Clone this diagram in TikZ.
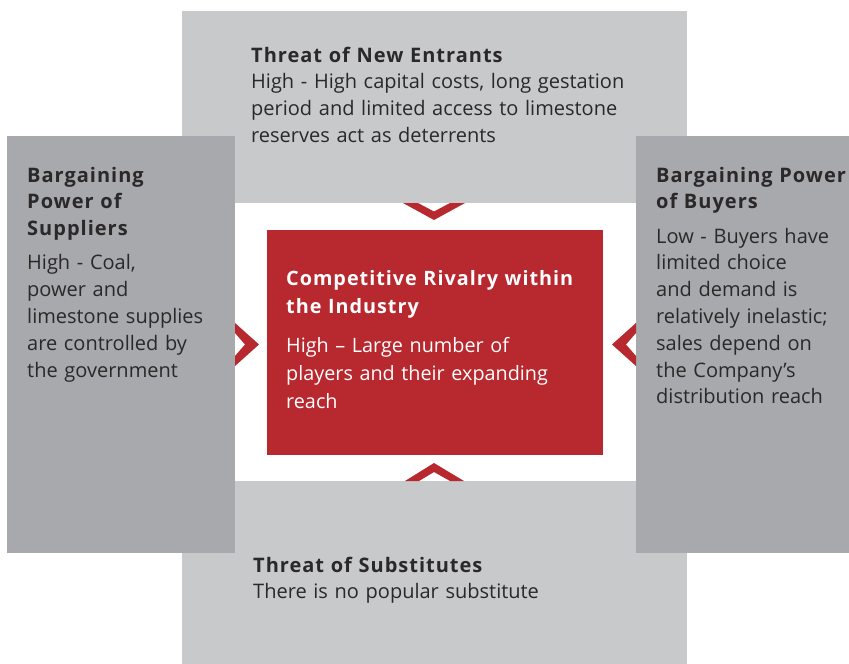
\documentclass[tikz,border=0pt]{standalone}
\usepackage{fontspec}
\setmainfont{Open Sans}[BoldFeatures={LetterSpace=5}]
\begin{document}
\begin{tikzpicture}[x=1pt,y=-1pt,
  lightpanel/.style={fill=panelLight},
  darkpanel/.style={fill=panelDark},
  chevron/.style={fill=rivalRed},
  blocktext/.style={anchor=base west,inner sep=0pt,align=left,text=inkDark,
    text width=400pt,font=\fontsize{20}{26.8}\selectfont},
  redtext/.style={anchor=base west,inner sep=0pt,align=left,text=white,
    text width=400pt,font=\fontsize{19.8}{28}\selectfont}]
\definecolor{panelLight}{HTML}{C8C9CB}
\definecolor{panelDark}{HTML}{A8A9AC}
\definecolor{rivalRed}{HTML}{B7282F}
\definecolor{inkDark}{HTML}{2A2829}
\useasboundingbox (0,0) rectangle (849,664);
\fill[white] (0,0) rectangle (849,664);

% outer force panels
\fill[lightpanel] (182,11) rectangle (687,203);
\fill[lightpanel] (182,481) rectangle (687,664);
\fill[darkpanel] (7,136) rectangle (235,553);
\fill[darkpanel] (636,136) rectangle (849,553);

% central rivalry panel
\fill[rivalRed] (267,230) rectangle (603,455);

% chevrons pointing at the centre
\fill[chevron] (403,203) -- (434,220) -- (465,203) -- (450,203) -- (434,211.5) -- (418,203) -- cycle;
\fill[chevron] (405,481) -- (434,463) -- (464,481) -- (450,481) -- (434,472) -- (419,481) -- cycle;
\fill[chevron] (235,323) -- (259,344.5) -- (235,366) -- (235,356) -- (245,344.5) -- (235,333) -- cycle;
\fill[chevron] (636,323) -- (612,344.5) -- (636,366) -- (636,356) -- (626,344.5) -- (636,333) -- cycle;

% texts
\node[blocktext] (entrants) at (251,62)
  {\textbf{Threat of New Entrants}\\
   High - High capital costs, long gestation\\
   period and limited access to limestone\\
   reserves act as deterrents};

\node[blocktext] (suppliers) at (27,182)
  {\textbf{Bargaining}\\
   \textbf{Power of}\\
   \textbf{Suppliers}\\[7.5pt]
   High - Coal,\\
   power and\\
   limestone supplies\\
   are controlled by\\
   the government};

\node[blocktext] (buyers) at (656,182)
  {\textbf{Bargaining Power}\\
   \textbf{of Buyers}\\[7.5pt]
   Low - Buyers have\\
   limited choice\\
   and demand is\\
   relatively inelastic;\\
   sales depend on\\
   the Company’s\\
   distribution reach};

\node[redtext] (rivalry) at (286,285)
  {\textbf{Competitive Rivalry within}\\
   \textbf{the Industry}\\[11pt]
   High – Large number of\\
   players and their expanding\\
   reach};

\node[blocktext] (substitutes) at (253,572)
  {\textbf{Threat of Substitutes}\\[-0.8pt]
   There is no popular substitute};
\end{tikzpicture}
\end{document}
